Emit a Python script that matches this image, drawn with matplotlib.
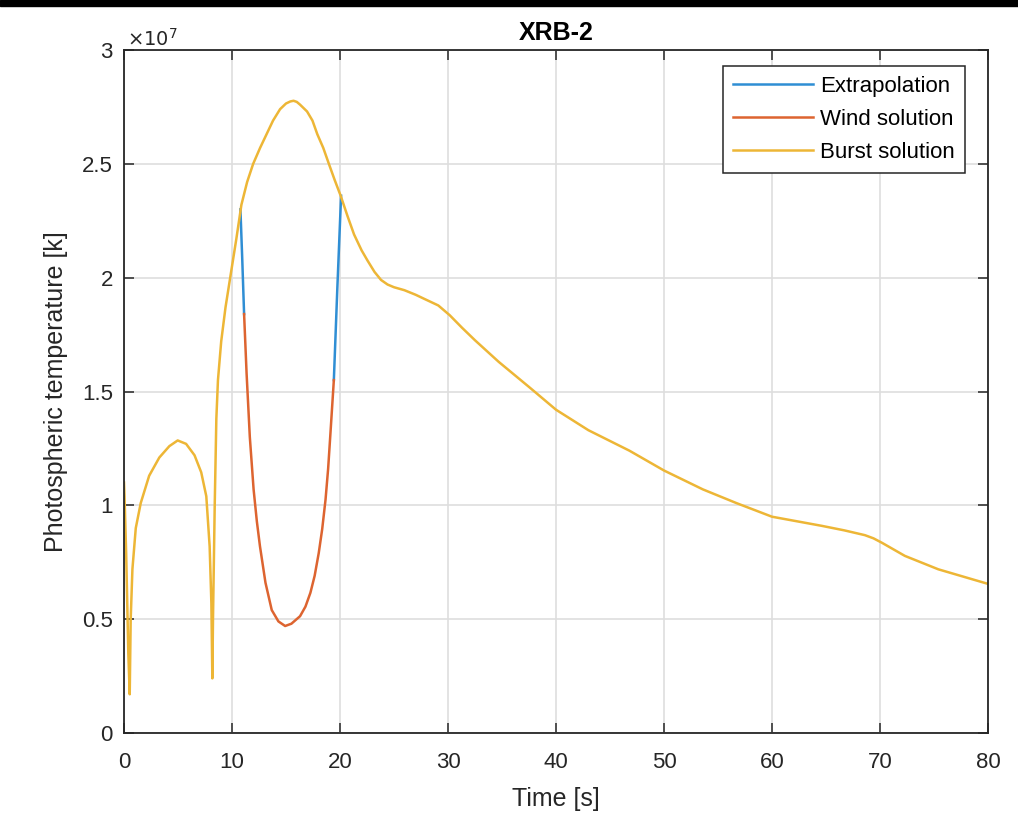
import matplotlib.pyplot as plt
import matplotlib.ticker as mticker
from matplotlib.patches import Rectangle

# Burst solution (yellow), temperature in units of 1e7 K
burst_t = [0.0, 0.05, 0.2, 0.4, 0.53, 0.62, 0.78, 1.09, 1.55, 2.33, 3.27, 4.2,
           4.97, 5.75, 6.53, 7.15, 7.62, 7.93, 8.09, 8.18, 8.24, 8.4, 8.55,
           8.7, 9.0, 9.4, 9.9, 10.4, 10.87, 11.4, 11.96, 12.6, 13.2, 13.8,
           14.45, 15.0, 15.4, 15.7, 16.0, 16.3, 16.95, 17.45, 17.9, 18.45,
           18.97, 19.5, 20.06, 20.7, 21.3, 22.0, 22.55, 23.2, 23.8, 24.4,
           25.0, 25.96, 27.0, 27.8, 29.1, 30.16, 31.3, 32.5, 34.7, 37.5, 40.0,
           43.0, 46.8, 50.0, 53.6, 56.7, 60.0, 62.3, 64.6, 66.7, 68.6, 69.4,
           70.2, 72.3, 75.4, 77.7, 80.0]
burst_T = [1.10, 1.04, 0.79, 0.35, 0.17, 0.50, 0.72, 0.90, 1.01, 1.13, 1.21, 1.26,
           1.285, 1.27, 1.22, 1.145, 1.04, 0.82, 0.57, 0.24, 0.50, 1.0, 1.38,
           1.55, 1.72, 1.87, 2.02, 2.17, 2.32, 2.42, 2.50, 2.57, 2.63, 2.69,
           2.74, 2.765, 2.774, 2.777, 2.772, 2.76, 2.73, 2.69, 2.63, 2.57,
           2.50, 2.43, 2.36, 2.27, 2.19, 2.12, 2.075, 2.025, 1.99, 1.97,
           1.958, 1.945, 1.925, 1.907, 1.878, 1.835, 1.78, 1.725, 1.63, 1.52, 1.42,
           1.33, 1.24, 1.153, 1.07, 1.01, 0.95, 0.93, 0.91, 0.89, 0.869, 0.855,
           0.835, 0.778, 0.719, 0.687, 0.655]

# Wind solution (red)
wind_t = [11.12, 11.35, 11.65, 12.0, 12.3, 12.59, 13.1, 13.68, 14.3, 14.92,
          15.5, 16.3, 16.8, 17.26, 17.65, 18.03, 18.35, 18.66, 18.9, 19.12, 19.43]
wind_T = [1.84, 1.58, 1.30, 1.07, 0.93, 0.82, 0.66, 0.54, 0.49, 0.47,
          0.48, 0.513, 0.555, 0.616, 0.69, 0.79, 0.895, 1.025, 1.16, 1.32, 1.55]

# Extrapolation (blue), two joining pieces
extrap_left_t = [10.78, 10.95, 11.12]
extrap_left_T = [2.30, 2.08, 1.84]
extrap_right_t = [19.43, 19.75, 20.1]
extrap_right_T = [1.55, 1.95, 2.36]

blue, red, yellow = '#2F8ED4', '#DD6430', '#EDB636'
dark = '#262626'

plt.rcParams['font.family'] = ['Liberation Sans', 'DejaVu Sans']

fig = plt.figure(figsize=(10.18, 8.22), dpi=100)
ax = fig.add_axes([124 / 1018, 1 - 733 / 822, 864 / 1018, 683 / 822])

ax.plot(extrap_left_t, extrap_left_T, color=blue, lw=1.8, label='Extrapolation')
ax.plot(extrap_right_t, extrap_right_T, color=blue, lw=1.8)
ax.plot(wind_t, wind_T, color=red, lw=1.8, label='Wind solution')
ax.plot(burst_t, burst_T, color=yellow, lw=1.8, label='Burst solution')

ax.set_xlim(0, 80)
ax.set_ylim(0, 3)
ax.set_xticks(range(0, 81, 10))
ax.set_yticks([0, 0.5, 1, 1.5, 2, 2.5, 3])
ax.yaxis.set_major_formatter(mticker.FormatStrFormatter('%g'))

ax.grid(True, color='#dedede', lw=1.2)
ax.set_axisbelow(True)
for s in ax.spines.values():
    s.set_color(dark)
    s.set_linewidth(1.3)
ax.tick_params(direction='in', length=7, width=1.1, colors=dark,
               top=True, right=True, labelsize=16)
ax.tick_params(axis='x', pad=14)
ax.tick_params(axis='y', pad=8)

ax.set_xlabel('Time [s]', fontsize=18, color=dark, labelpad=10)
ax.set_ylabel('Photospheric temperature [k]', fontsize=18, color=dark, labelpad=10)
ax.set_title('XRB-2', fontsize=18, fontweight='bold', color='black', pad=7)
ax.text(0.004, 1.0, r'$\times 10^{7}$', transform=ax.transAxes,
        fontsize=14, color=dark, va='bottom', ha='left')

leg = ax.legend(loc='upper right', bbox_to_anchor=(0.973, 0.977), borderaxespad=0,
                fontsize=16, fancybox=False, framealpha=1, edgecolor=dark,
                handlelength=3.6, handletextpad=0.3, labelspacing=0.55,
                borderpad=0.45)
leg.get_frame().set_linewidth(1.1)

# black strip at the very top of the screenshot
fig.patches.append(Rectangle((0, 1 - 6 / 822), 1, 6 / 822, transform=fig.transFigure,
                             color='black', zorder=10))

fig.savefig('out.png', dpi=100)
